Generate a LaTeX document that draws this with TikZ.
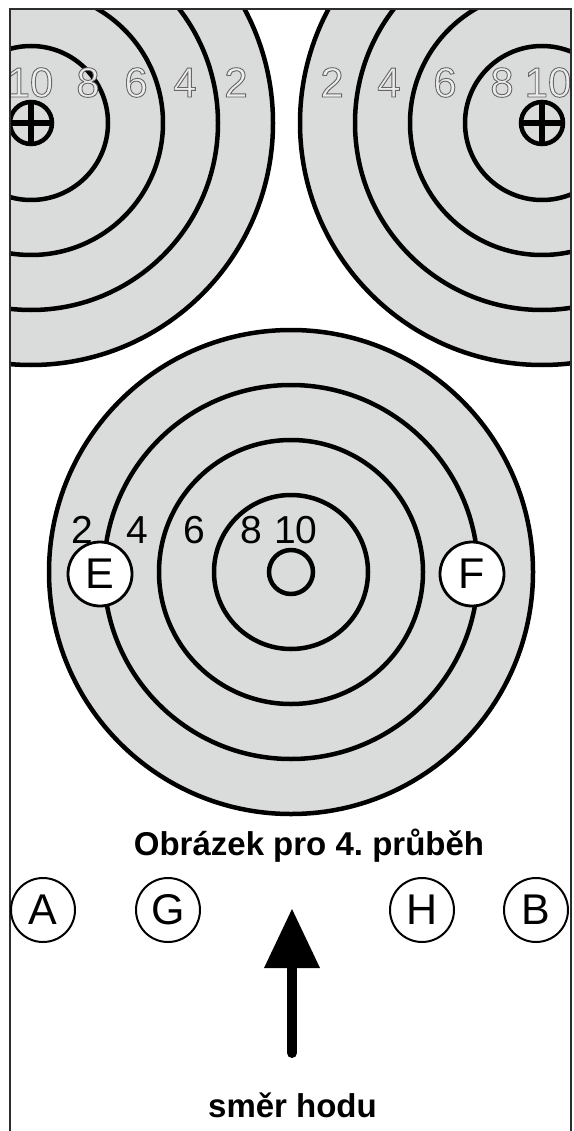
\documentclass[tikz,border=0pt]{standalone}
\usepackage{fontspec}
\setmainfont{Liberation Sans}
\frenchspacing
\definecolor{tgrey}{RGB}{218,219,219}
\definecolor{framec}{RGB}{45,45,45}
\definecolor{digfill}{RGB}{236,236,236}
\newcommand{\outl}[1]{\special{pdf:literal direct 2 Tr 0.9 w 0.4 0.4 0.4 RG}#1\special{pdf:literal direct 0 Tr}}
\newcommand{\drawtarget}[1]{%
  \fill[tgrey] (#1) circle[radius=243];
  \foreach \r in {77,132,187,242}{\draw[ring] (#1) circle[radius=\r];}%
}
\newcommand{\crosshair}[1]{%
  \draw[line width=4.5pt] (#1) circle[radius=21];
  \draw[line width=6pt] ([xshift=-23pt]#1) -- ([xshift=23pt]#1);
  \draw[line width=6pt] ([yshift=-23pt]#1) -- ([yshift=23pt]#1);
}
\tikzset{
  ring/.style={draw=black, line width=4.5pt},
  dig/.style={font=\fontsize{39}{39}\selectfont, anchor=base, inner sep=0pt},
  topdig/.style={font=\fontsize{42}{42}\selectfont, anchor=base, inner sep=0pt, text=digfill},
  lettercirc/.style={circle, draw, line width=2pt, minimum size=64pt, inner sep=0pt, font=\fontsize{43}{43}\selectfont},
  efcirc/.style={lettercirc, fill=white, line width=2.8pt},
  titletext/.style={font=\bfseries\fontsize{33}{33}\selectfont, anchor=base, inner sep=0pt},
}
\begin{document}
\begin{tikzpicture}[x=1pt,y=-1pt]
\useasboundingbox (0,0) rectangle (573,1131);
\fill[white] (0,0) rectangle (573,1131);
\coordinate (tl) at (31,123);
\coordinate (tr) at (542,123);
\coordinate (ct) at (291,572);
\begin{scope}
  \clip (10,9) rectangle (571,1131);
  \drawtarget{tl}
  \drawtarget{tr}
  \crosshair{tl}
  \crosshair{tr}
  \node[topdig] (l10) at (30,97) {\outl{10}};
  \node[topdig] (l8) at (88,97) {\outl{8}};
  \node[topdig] (l6) at (136,97) {\outl{6}};
  \node[topdig] (l4) at (185,97) {\outl{4}};
  \node[topdig] (l2) at (236,97) {\outl{2}};
  \node[topdig] (r2) at (332,97) {\outl{2}};
  \node[topdig] (r4) at (389,97) {\outl{4}};
  \node[topdig] (r6) at (445,97) {\outl{6}};
  \node[topdig] (r8) at (502,97) {\outl{8}};
  \node[topdig] (r10) at (548,97) {\outl{10}};
\end{scope}
\draw[framec, line width=2pt] (10,1131) -- (10,9) -- (571,9) -- (571,1131);
% central target
\drawtarget{ct}
\draw[ring] (ct) circle[radius=22];
\node[dig] (c2) at (82,543) {2};
\node[dig] (c4) at (137,543) {4};
\node[dig] (c6) at (194,543) {6};
\node[dig] (c8) at (251,543) {8};
\node[dig] (c10) at (296,543) {10};
\node[efcirc] (E) at (100,574) {E};
\node[efcirc] (F) at (472,574) {F};
% bottom
\node[titletext] (title) at (309,855) {Obrázek pro 4. průběh};
\node[lettercirc] (A) at (43,910) {A};
\node[lettercirc] (G) at (168,910) {G};
\node[lettercirc] (H) at (422,910) {H};
\node[lettercirc] (B) at (536,910) {B};
\coordinate (tip) at (292,909);
\coordinate (bl) at (264,968);
\coordinate (br) at (320,968);
\coordinate (tail) at (292,1053);
\fill (tip) -- (br) -- (bl) -- cycle;
\draw[line width=10pt, line cap=round] (292,965) -- (tail);
\node[titletext] (dir) at (292.5,1117) {směr hodu};
\end{tikzpicture}
\end{document}
